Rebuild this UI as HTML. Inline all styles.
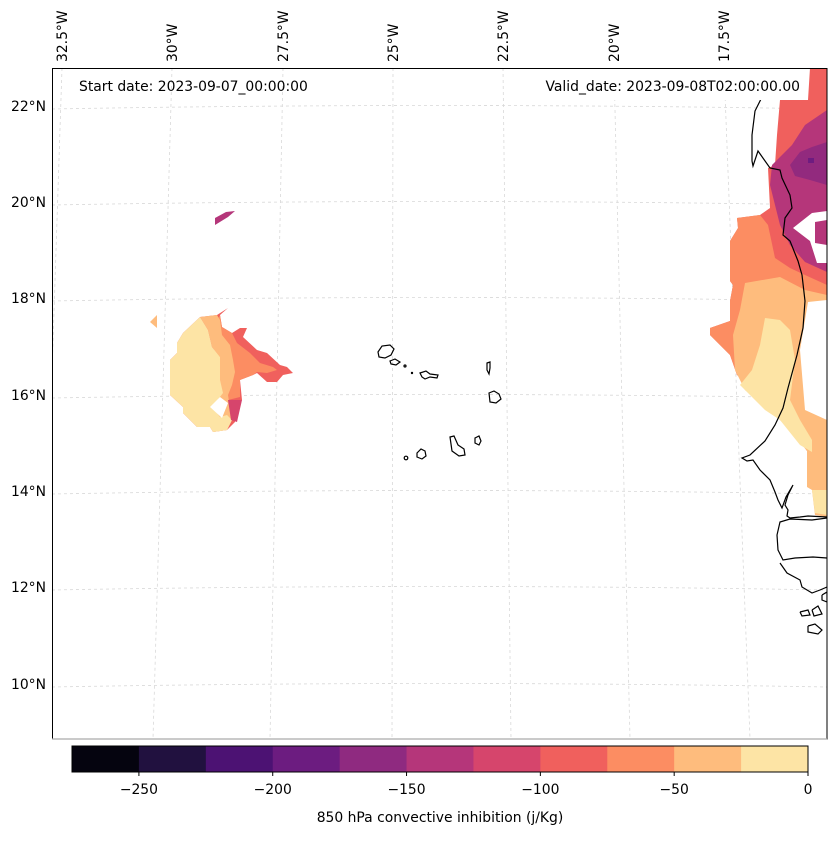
<!DOCTYPE html>
<html><head><meta charset="utf-8"><style>
body{margin:0;background:#fff;}
svg text{font-family:"DejaVu Sans","Liberation Sans",sans-serif;font-size:13.9px;fill:#000;}
</style></head><body>
<svg width="837" height="836" viewBox="0 0 837 836" xmlns="http://www.w3.org/2000/svg">
<defs><clipPath id="mapclip"><rect x="52" y="68" width="775" height="671"/></clipPath></defs>
<g clip-path="url(#mapclip)">
 <g id="grid" stroke="#d8d8d8" stroke-width="0.8" stroke-dasharray="3,3" fill="none"></g>
 <g stroke="none">
  <polygon fill="#f0605d" points="810,68 827,68 827,468 810,468 807,451 793,428 773,411 757,388 737,375 730,355 710,335 710,328 730,321 730,301 733,285 730,281 730,241 738,228 737,218 760,215 770,208 768,168 775,165 777,135 780,100 808,100"/>
  <polygon fill="#b5367a" points="827,110 805,125 792,145 772,165 770,185 775,205 780,225 790,245 805,262 827,272"/>
  <polygon fill="#922a7e" points="790,165 800,152 812,147 827,142 827,185 810,180 795,176"/>
  <polygon fill="#6e1c80" points="808,158 814,158 814,163 808,163"/>
  <polygon fill="#fc8d62" points="737,218 760,215 768,225 775,258 790,268 805,275 827,285 827,468 810,468 807,451 793,428 773,411 757,388 737,375 730,355 710,335 710,328 730,321 730,301 733,285 730,281 730,241 738,228"/>
  <polygon fill="#febc7d" points="745,283 780,277 805,290 827,295 827,517 815,515 812,490 807,487 807,451 790,430 770,410 745,390 735,370 733,335 740,310"/>
  <polygon fill="#fde4a5" points="765,318 780,320 790,330 795,360 790,400 800,420 812,440 812,452 800,445 780,420 765,410 750,395 740,385 752,370 760,345"/>
  <polygon fill="#fde4a5" points="812,490 827,490 827,515 815,513"/>
  <polygon fill="#fff" points="827,211 812,213 793,228 810,241 817,263 827,263 827,245 815,243 815,222 827,220"/>
  <polygon fill="#fff" points="808,302 827,300 827,420 805,410 800,350 805,320"/>
  <polygon fill="#fff" points="780,100 808,100 808,68 780,68"/>
  <polygon fill="#f0605d" points="200,317 217,315 228,308 220,315 222,327 232,333 240,328 247,328 243,337 257,350 267,353 280,365 287,367 293,373 283,375 277,382 267,382 257,373 253,375 240,380 242,400 238,405 235,422 227,430 213,432 210,427 197,427 183,413 183,407 170,395 170,360 177,353 177,343 183,333"/>
  <polygon fill="#fc8d62" points="220,315 222,327 232,333 237,343 250,353 260,363 273,367 277,370 267,373 257,372 253,375 240,380 240,397 228,400 223,393 215,360 212,330"/>
  <polygon fill="#febc7d" points="200,317 217,315 220,320 222,335 230,345 233,360 235,372 232,385 228,395 232,420 227,430 213,432 212,407 220,380 220,357 212,347 208,330"/>
  <polygon fill="#fde4a5" points="200,317 208,330 212,347 220,357 220,380 223,393 212,407 220,417 227,415 232,420 227,430 213,432 210,427 197,427 183,413 183,407 170,395 170,360 177,353 177,343 183,333"/>
  <polygon fill="#fff" points="210,407 220,397 228,403 222,418"/>
  <polygon fill="#d6456c" points="228,400 242,400 237,422 231,420"/>
  <polygon fill="#b5367a" points="215,218 226,212 235,211 228,217 215,225"/>
  <polygon fill="#febc7d" points="150,322 157,315 157,328"/>
 </g>
 <g fill="none" stroke="#000" stroke-width="1.2">
  <polyline points="781,68 780,75 765,91 755,111 752,135 752,161 753,166 758,151 770,168 780,170 782,178 790,195 792,208 785,218 783,235 790,241 798,261 802,275 805,301 803,328 797,355 788,388 783,408 775,425 765,441 750,455 742,458 747,461 753,460 760,470 770,480 775,492 778,500 782,508 786,497 793,485 788,495 785,505 788,510 787,516 790,518 800,517 808,516 827,517"/>
  <polyline points="827,518 812,520 790,519 780,522 777,535 778,550 783,560 795,558 813,557 827,558"/>
  <polyline points="780,563 787,573 800,580 802,587 812,593 820,590 827,587"/>
  <polyline points="800,612 808,610 810,615 802,616 800,612"/>
  <polyline points="812,610 818,606 822,614 814,616 812,610"/>
  <polyline points="808,626 815,624 822,630 818,634 808,632 808,626"/>
  <polyline points="822,595 827,592 827,602 822,600 822,595"/>
 </g>
 <g fill="none" stroke="#000" stroke-width="1.2">
  <polygon points="378,352 382,346 390,345 394,349 391,355 385,358 379,357"/>
  <polygon points="390,361 395,359 400,362 396,365 391,364"/>
  <circle cx="405" cy="366" r="1"/>
  <circle cx="412" cy="373" r="0.6"/>
  <polygon points="420,373 426,371 430,374 438,375 437,378 430,377 425,379 422,377"/>
  <polygon points="487,363 490,362 490,368 489,374 487,370"/>
  <polygon points="489,393 494,391 499,394 501,399 496,403 490,402"/>
  <polygon points="475,438 479,436 481,441 479,445 475,443"/>
  <polygon points="450,437 454,436 458,445 464,449 465,455 459,456 452,451 451,444"/>
  <polygon points="417,453 421,449 425,451 426,456 422,459 417,457"/>
  <circle cx="406" cy="458" r="1.8"/>
 </g>
</g>
<rect x="535" y="68" width="273" height="32" fill="#fff"/>
<rect x="52.5" y="68.5" width="774.5" height="670.5" fill="none" stroke="#000" stroke-width="1"/>
<line x1="52" y1="739" x2="827" y2="739" stroke="#aaa" stroke-width="1.2"/>
<text x="79" y="91">Start date: 2023-09-07_00:00:00</text>
<text x="800" y="91" text-anchor="end">Valid_date: 2023-09-08T02:00:00.00</text>
<g id="lonlabels"></g>
<g id="latlabels"></g>
<g id="cbar"></g>
<text x="440" y="822" text-anchor="middle">850 hPa convective inhibition (j/Kg)</text>
</svg>
<script>
const lonLabels = ["32.5°W","30°W","27.5°W","25°W","22.5°W","20°W","17.5°W"];
const lonTopX = [62,172,283,393,503,614,724];
const lonBotX = [40,153,270,392,511,630,750];
const latLabels = ["22°N","20°N","18°N","16°N","14°N","12°N","10°N"];
const latY = [106,202,298,395,491,587,684];
const cbarLevels = [-275,-250,-225,-200,-175,-150,-125,-100,-75,-50,-25,0];
const cbarColors = ["#05040f","#21113f","#4c1273","#6c1c80","#8f2a80","#b5367a","#d6456c","#f0605d","#fc8d62","#febc7d","#fde4a5"];
const cbarTicks = [-250,-200,-150,-100,-50,0];
const NS="http://www.w3.org/2000/svg";
function mk(t,a,p){const e=document.createElementNS(NS,t);for(const k in a)e.setAttribute(k,a[k]);p.appendChild(e);return e;}
const grid=document.getElementById('grid');
latY.forEach(y=>{const l=mk('path',{d:`M52,${y+3} Q440,${y-4} 827,${y+3}`},grid);

});
lonTopX.forEach((x,i)=>{const l=mk('line',{x1:x,y1:68,x2:lonBotX[i],y2:739},grid);

});
const lg=document.getElementById('lonlabels');
lonLabels.forEach((s,i)=>{const t=mk('text',{transform:`translate(${lonTopX[i]+5},62) rotate(-90)`},lg);t.textContent=s;

});
const la=document.getElementById('latlabels');
latLabels.forEach((s,i)=>{const t=mk('text',{x:46,y:latY[i]+5,'text-anchor':'end'},la);t.textContent=s;

});
const cb=document.getElementById('cbar');
const x0=72,x1=808,vmin=-275,vmax=0;
const sx=v=>x0+(v-vmin)/(vmax-vmin)*(x1-x0);
cbarColors.forEach((c,i)=>{const r=mk('rect',{x:sx(cbarLevels[i]),y:746,width:sx(cbarLevels[i+1])-sx(cbarLevels[i])+0.5,height:26,fill:c},cb);

});
const fr=mk('rect',{x:x0,y:746,width:x1-x0,height:26,fill:'none',stroke:'#000','stroke-width':1},cb);


cbarTicks.forEach(v=>{const l=mk('line',{x1:sx(v),y1:772,x2:sx(v),y2:776,stroke:'#000'},cb);


const t=mk('text',{x:sx(v),y:794,'text-anchor':'middle'},cb);t.textContent=v<0?'\u2212'+Math.abs(v):String(v);

});
</script>
</body></html>
